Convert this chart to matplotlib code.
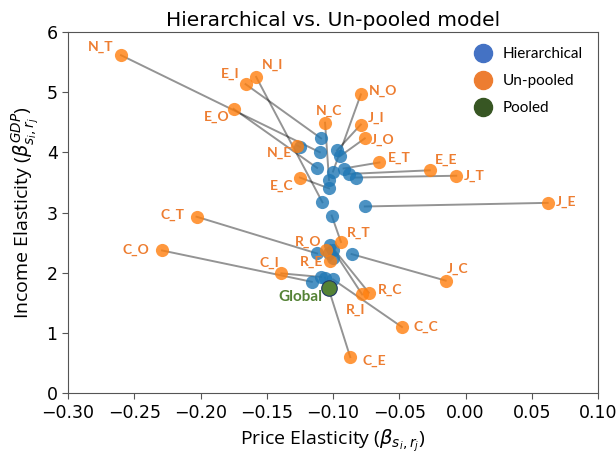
import matplotlib
matplotlib.use("Agg")
import matplotlib.pyplot as plt
from matplotlib.lines import Line2D

# segment names (region_type)
names = ["N_T", "E_I", "N_I", "E_O", "N_E", "E_C", "C_T", "C_O", "C_I", "N_C",
         "N_O", "J_I", "J_O", "E_T", "E_E", "J_T", "J_E", "R_T", "R_O", "R_E",
         "R_I", "R_C", "J_C", "C_C", "C_E"]

# un-pooled estimates
unpooled_price = [-0.260, -0.166, -0.158, -0.175, -0.127, -0.125, -0.203, -0.229, -0.139, -0.106,
                  -0.079, -0.079, -0.076, -0.065, -0.027, -0.007, 0.062, -0.094, -0.105, -0.102,
                  -0.078, -0.073, -0.015, -0.048, -0.087]
unpooled_income = [5.61, 5.13, 5.25, 4.72, 4.11, 3.58, 2.93, 2.37, 1.99, 4.49,
                   4.96, 4.46, 4.23, 3.83, 3.70, 3.61, 3.16, 2.51, 2.38, 2.20,
                   1.64, 1.67, 1.87, 1.10, 0.60]

# hierarchical estimates
hier_price = [-0.110, -0.109, -0.108, -0.112, -0.125, -0.103, -0.112, -0.116, -0.109, -0.103,
              -0.100, -0.097, -0.095, -0.092, -0.088, -0.083, -0.076, -0.101, -0.103, -0.100,
              -0.100, -0.102, -0.086, -0.100, -0.106]
hier_income = [4.00, 4.23, 3.17, 3.74, 4.09, 3.40, 2.32, 1.85, 1.93, 3.54,
               3.68, 4.03, 3.93, 3.73, 3.64, 3.58, 3.10, 2.95, 2.32, 2.25,
               2.38, 2.46, 2.31, 1.89, 1.92]

# pooled (global) estimate
pooled_price = -0.103
pooled_income = 1.74

# label offsets in pixels
label_off = {
    "N_T": (-20, 8), "E_I": (-15, 10), "N_I": (16, 12), "E_O": (-17, -8), "N_E": (-18, -7),
    "E_C": (-18, -8), "C_T": (-24, 2), "C_O": (-26, 1), "C_I": (-12, 10), "N_C": (4, 12),
    "N_O": (22, 3), "J_I": (15, 7), "J_O": (18, -2), "E_T": (20, 5), "E_E": (16, 10),
    "J_T": (18, 0), "J_E": (18, 1), "R_T": (18, 9), "R_O": (-18, 8), "R_E": (-19, -1),
    "R_I": (-7, -15), "R_C": (21, 3), "J_C": (12, 12), "C_C": (24, 0), "C_E": (24, -4),
}

label_font = "Lato"

fig = plt.figure(figsize=(6.16, 4.53), dpi=100)
ax = fig.add_axes([0.1104, 0.1318, 0.8604, 0.7982])

for i in range(len(names)):
    ax.plot([unpooled_price[i], hier_price[i]], [unpooled_income[i], hier_income[i]],
            color="black", alpha=0.42, lw=1.4, zorder=2)

ax.scatter(hier_price, hier_income, s=90, color="#1f77b4", alpha=0.8, lw=0, zorder=3)
ax.scatter(unpooled_price, unpooled_income, s=90, color="#ff7f0e", alpha=0.8, lw=0, zorder=3)
ax.scatter([pooled_price], [pooled_income], s=125, color="#548235", edgecolor="#1F3864",
           lw=0.8, zorder=4)

for i, n in enumerate(names):
    dx, dy = label_off[n]
    ax.annotate(n, (unpooled_price[i], unpooled_income[i]), xytext=(dx, dy),
                textcoords="offset pixels", ha="center", va="center",
                color="#ED7D31", fontsize=10, fontweight="bold", family=label_font)
ax.annotate("Global", (pooled_price, pooled_income), xytext=(-29, -9),
            textcoords="offset pixels", ha="center", va="center",
            color="#548235", fontsize=11, fontweight="bold", family=label_font)

ax.set_xlim(-0.30, 0.10)
ax.set_ylim(0, 6)
ax.set_xticks([-0.30, -0.25, -0.20, -0.15, -0.10, -0.05, 0.00, 0.05, 0.10])
ax.set_yticks([0, 1, 2, 3, 4, 5, 6])
ax.tick_params(labelsize=12.5, length=4, color="#555555")
for sp in ax.spines.values():
    sp.set_color("#555555")

ax.set_title("Hierarchical vs. Un-pooled model", fontsize=14.5, pad=4)
ax.set_xlabel(r"Price Elasticity ($\beta_{s_i,r_j}$)", fontsize=14, family="Open Sans")
ax.set_ylabel(r"Income Elasticity ($\beta^{GDP}_{s_i,r_j}$)", fontsize=14, family="Open Sans")

handles = [
    Line2D([], [], ls="", marker="o", ms=13, color="#4472C4"),
    Line2D([], [], ls="", marker="o", ms=13, color="#ED7D31"),
    Line2D([], [], ls="", marker="o", ms=13, color="#375623"),
]
ax.legend(handles, ["Hierarchical", "Un-pooled", "Pooled"], loc="upper left",
          bbox_to_anchor=(0.728, 0.995), frameon=False,
          prop={"family": label_font, "size": 11},
          handletextpad=0.3, labelspacing=0.85)

fig.savefig("out.png", dpi=100)
